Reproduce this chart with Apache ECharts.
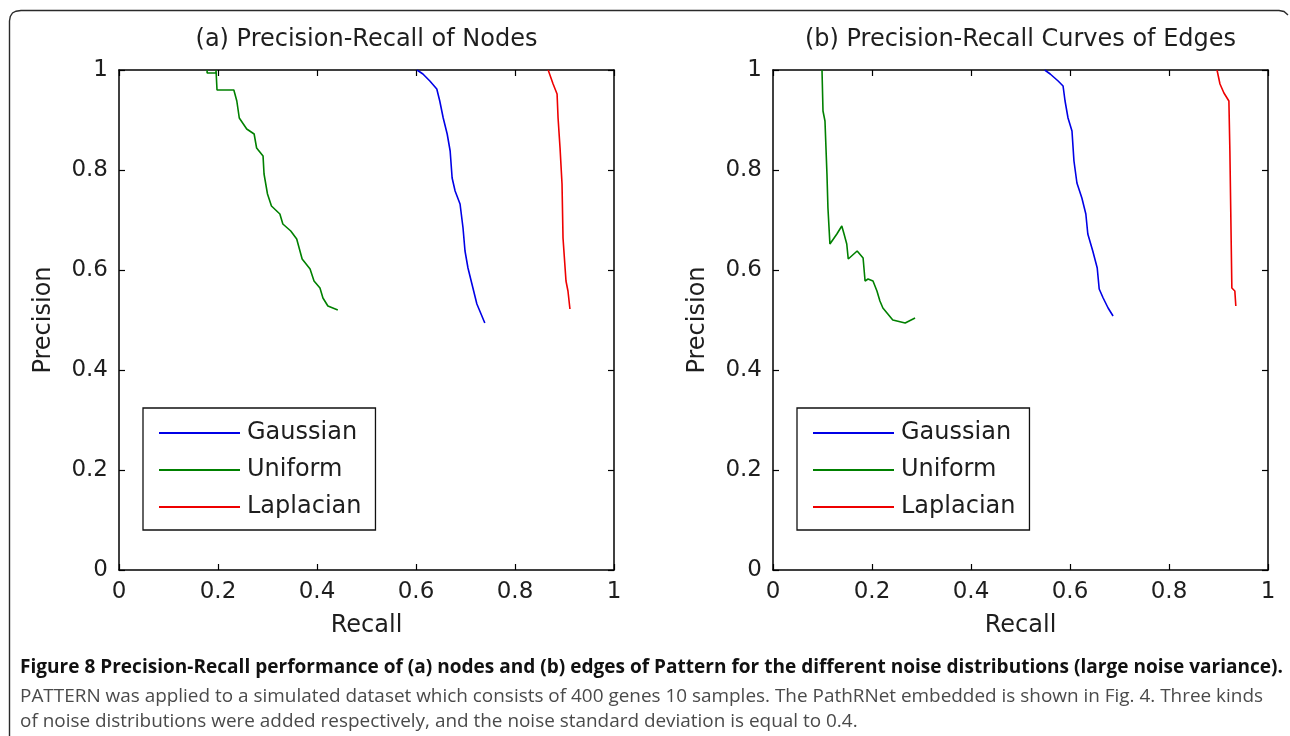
<!DOCTYPE html>
<html><head><meta charset="utf-8">
<script src="https://cdn.jsdelivr.net/npm/echarts@6/dist/echarts.min.js"></script>
<style>html,body{margin:0;padding:0;background:#fff;}#c{width:1290px;height:736px;}</style>
</head><body><div id="c"></div>
<script>
// ---------- data ----------
const seriesNames = ['Gaussian', 'Uniform', 'Laplacian'];
const seriesColors = ['#0000e6', '#008000', '#ee0000'];
const panelTitles = ['(a) Precision-Recall of Nodes', '(b) Precision-Recall Curves of Edges'];
const xAxisName = 'Recall';
const yAxisName = 'Precision';

// Panel (a): nodes  [recall, precision]
const nodesGaussian = [[0.602,1.0],[0.614,0.992],[0.628,0.978],[0.642,0.962],[0.648,0.938],[0.655,0.904],[0.663,0.872],[0.669,0.838],[0.673,0.784],[0.679,0.758],[0.689,0.732],[0.695,0.684],[0.699,0.638],[0.705,0.604],[0.713,0.572],[0.723,0.532],[0.739,0.494]];
const nodesUniform = [[0.178,1.0],[0.178,0.994],[0.196,0.994],[0.196,1.0],[0.198,0.96],[0.232,0.96],[0.238,0.938],[0.243,0.904],[0.258,0.882],[0.273,0.872],[0.278,0.844],[0.291,0.828],[0.293,0.792],[0.300,0.752],[0.308,0.728],[0.325,0.712],[0.331,0.692],[0.347,0.678],[0.359,0.662],[0.370,0.622],[0.386,0.602],[0.394,0.578],[0.406,0.564],[0.412,0.544],[0.422,0.528],[0.442,0.52]];
const nodesLaplacian = [[0.867,1.0],[0.877,0.972],[0.885,0.952],[0.887,0.904],[0.891,0.844],[0.895,0.772],[0.897,0.664],[0.903,0.578],[0.907,0.558],[0.911,0.522]];

// Panel (b): edges  [recall, precision]
const edgesGaussian = [[0.549,1.0],[0.560,0.992],[0.576,0.978],[0.586,0.968],[0.590,0.938],[0.596,0.904],[0.604,0.878],[0.608,0.818],[0.614,0.774],[0.624,0.744],[0.632,0.712],[0.636,0.672],[0.646,0.638],[0.655,0.604],[0.659,0.562],[0.667,0.544],[0.677,0.524],[0.687,0.508]];
const edgesUniform = [[0.099,1.0],[0.101,0.918],[0.105,0.898],[0.109,0.792],[0.111,0.724],[0.115,0.652],[0.129,0.672],[0.139,0.688],[0.143,0.674],[0.149,0.652],[0.152,0.622],[0.170,0.638],[0.182,0.624],[0.186,0.578],[0.192,0.582],[0.202,0.578],[0.210,0.558],[0.216,0.538],[0.222,0.524],[0.232,0.512],[0.242,0.500],[0.267,0.494],[0.287,0.504]];
const edgesLaplacian = [[0.897,1.0],[0.903,0.972],[0.911,0.954],[0.921,0.938],[0.923,0.838],[0.927,0.564],[0.933,0.558],[0.935,0.528]];

const axisMin = 0, axisMax = 1, axisInterval = 0.2;

const captionBold = 'Figure 8 Precision-Recall performance of (a) nodes and (b) edges of Pattern for the different noise distributions (large noise variance).';
const captionLines = [
  'PATTERN was applied to a simulated dataset which consists of 400 genes 10 samples. The PathRNet embedded is shown in Fig. 4. Three kinds',
  'of noise distributions were added respectively, and the noise standard deviation is equal to 0.4.'
];

// ---------- layout ----------
const FONT = '"DejaVu Sans", "Liberation Sans", sans-serif';
const TXT = '#1e1e1e';
const grids = [
  {left: 119, top: 70, width: 495, height: 500},
  {left: 773, top: 70, width: 495, height: 500}
];
const panelData = [[nodesGaussian, nodesUniform, nodesLaplacian], [edgesGaussian, edgesUniform, edgesLaplacian]];

function measure(text, font) {
  const ctx = document.createElement('canvas').getContext('2d');
  ctx.font = font;
  return ctx.measureText(text).width;
}

const xAxes = [], yAxes = [], series = [], legends = [], graphics = [];
grids.forEach((g, gi) => {
  const lineStyle = {color: '#000', width: 1.5};
  const tick = {show: true, inside: true, length: 6, lineStyle: {color: '#000', width: 1.2}};
  xAxes.push({
    type: 'value', gridIndex: gi, position: 'bottom', min: axisMin, max: axisMax, interval: axisInterval,
    axisLine: {show: true, onZero: false, lineStyle}, axisTick: tick, splitLine: {show: false},
    axisLabel: {fontSize: 23, fontFamily: FONT, color: TXT, margin: 11},
    name: xAxisName, nameLocation: 'middle', nameGap: 44,
    nameTextStyle: {fontSize: 24, fontFamily: FONT, color: TXT}
  });
  xAxes.push({
    type: 'value', gridIndex: gi, position: 'top', min: axisMin, max: axisMax, interval: axisInterval,
    axisLine: {show: true, onZero: false, lineStyle}, axisTick: tick, splitLine: {show: false},
    axisLabel: {show: false}
  });
  yAxes.push({
    type: 'value', gridIndex: gi, position: 'left', min: axisMin, max: axisMax, interval: axisInterval,
    axisLine: {show: true, onZero: false, lineStyle}, axisTick: tick, splitLine: {show: false},
    axisLabel: {fontSize: 23, fontFamily: FONT, color: TXT, margin: 11},
    name: yAxisName, nameLocation: 'middle', nameGap: 63,
    nameTextStyle: {fontSize: 24, fontFamily: FONT, color: TXT}
  });
  yAxes.push({
    type: 'value', gridIndex: gi, position: 'right', min: axisMin, max: axisMax, interval: axisInterval,
    axisLine: {show: true, onZero: false, lineStyle}, axisTick: tick, splitLine: {show: false},
    axisLabel: {show: false}
  });
  seriesNames.forEach((name, si) => {
    series.push({
      name, type: 'line', xAxisIndex: gi * 2, yAxisIndex: gi * 2,
      data: panelData[gi][si], showSymbol: false, symbol: 'none',
      lineStyle: {color: seriesColors[si], width: 1.6}, itemStyle: {color: seriesColors[si]},
      z: 3, silent: true
    });
  });
  legends.push({
    data: seriesNames, orient: 'vertical', left: g.left + 24, top: 408,
    icon: 'rect', itemWidth: 81, itemHeight: 2, itemGap: 13,
    padding: [13, 14, 11, 16], borderColor: '#111', borderWidth: 1.3, backgroundColor: '#fff',
    selectedMode: false,
    textStyle: {fontSize: 24, fontFamily: FONT, color: TXT, padding: [0, 0, 0, 2]}
  });
  graphics.push({
    type: 'text', x: g.left + g.width / 2, y: 40,
    style: {text: panelTitles[gi], font: '24px ' + FONT, fill: TXT, textAlign: 'center', textVerticalAlign: 'middle'}
  });
});

// outer frame (top + left edges, rounded corner)
graphics.push({
  type: 'polyline', silent: true,
  shape: {points: [[9.5,736],[9.5,21],[10.3,16.5],[12.5,13],[16,11.2],[21,10.5],[1279,10.5],[1284,11.5],[1288,15]]},
  style: {stroke: '#2a2a2a', lineWidth: 1.4, fill: null}
});

// caption
const boldFont = 'bold 20px "Open Sans", "Liberation Sans", sans-serif';
const regFont = '19px "Open Sans", "Liberation Sans", sans-serif';
const boldScale = (1283 - 20) / measure(captionBold, boldFont);
const regScale = (1263 - 20) / measure(captionLines[0], regFont);
graphics.push({
  type: 'text', x: 20, y: 667, scaleX: boldScale,
  style: {text: captionBold, font: boldFont, fill: '#111', textAlign: 'left', textVerticalAlign: 'middle'}
});
captionLines.forEach((t, i) => {
  graphics.push({
    type: 'text', x: 20, y: 697 + i * 25, scaleX: regScale,
    style: {text: t, font: regFont, fill: '#4a4a4a', textAlign: 'left', textVerticalAlign: 'middle'}
  });
});

const chart = echarts.init(document.getElementById('c'), null, {renderer: 'canvas'});
chart.setOption({
  animation: false,
  backgroundColor: '#fff',
  grid: grids.map(g => Object.assign({containLabel: false}, g)),
  xAxis: xAxes,
  yAxis: yAxes,
  legend: legends,
  series,
  graphic: graphics
});
</script></body></html>
